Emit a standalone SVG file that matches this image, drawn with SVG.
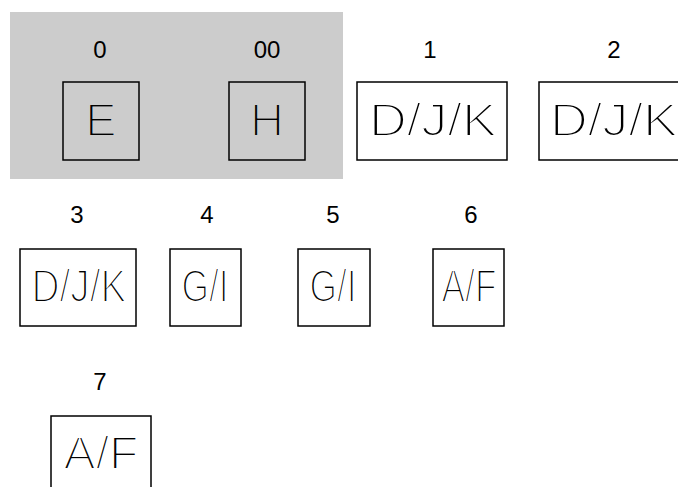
<svg xmlns="http://www.w3.org/2000/svg" width="678" height="487" viewBox="0 0 678 487">
<style>
.box{fill:none;stroke:#000;stroke-width:1.5}
.lbl{font-family:"Liberation Sans",Arial,sans-serif;font-size:24px;text-anchor:middle;fill:#000}
.big{font-family:"Liberation Sans",Arial,sans-serif;font-size:47px;text-anchor:middle;fill:#000;stroke:#fff;stroke-width:2.2}
.ong .big{stroke:#cccccc}
</style>
<rect x="10" y="12" width="333" height="167" fill="#cccccc"/>
<g id="n0" class="ong">
<text class="lbl" x="100" y="58">0</text>
<rect class="box" x="63" y="82" width="76" height="78"/>
<text class="big" x="101" y="136">E</text>
</g>
<g id="n00" class="ong">
<text class="lbl" x="267" y="58">00</text>
<rect class="box" x="229" y="82" width="76" height="78"/>
<text class="big" x="267" y="136">H</text>
</g>
<g id="n1">
<text class="lbl" x="430" y="58">1</text>
<rect class="box" x="357" y="82" width="150" height="78"/>
<text class="big" x="433" y="136" textLength="128" lengthAdjust="spacingAndGlyphs">D/J/K</text>
</g>
<g id="n2">
<text class="lbl" x="614" y="58">2</text>
<rect class="box" x="539" y="82" width="150" height="78"/>
<text class="big" x="614" y="136" textLength="128" lengthAdjust="spacingAndGlyphs">D/J/K</text>
</g>
<g id="n3">
<text class="lbl" x="77" y="223">3</text>
<rect class="box" x="20" y="249" width="116" height="77"/>
<text class="big" x="79" y="302" textLength="95" lengthAdjust="spacingAndGlyphs">D/J/K</text>
</g>
<g id="n4">
<text class="lbl" x="207" y="223">4</text>
<rect class="box" x="170" y="249" width="71" height="77"/>
<text class="big" x="205" y="302" textLength="47" lengthAdjust="spacingAndGlyphs">G/I</text>
</g>
<g id="n5">
<text class="lbl" x="333" y="223">5</text>
<rect class="box" x="298" y="249" width="72" height="77"/>
<text class="big" x="333" y="302" textLength="47" lengthAdjust="spacingAndGlyphs">G/I</text>
</g>
<g id="n6">
<text class="lbl" x="471" y="223">6</text>
<rect class="box" x="433" y="249" width="71" height="77"/>
<text class="big" x="469" y="302" textLength="55" lengthAdjust="spacingAndGlyphs">A/F</text>
</g>
<g id="n7">
<text class="lbl" x="100" y="390">7</text>
<rect class="box" x="51" y="416" width="100" height="80"/>
<text class="big" x="101" y="469" textLength="75" lengthAdjust="spacingAndGlyphs">A/F</text>
</g>
<g id="connectors"/>
</svg>
